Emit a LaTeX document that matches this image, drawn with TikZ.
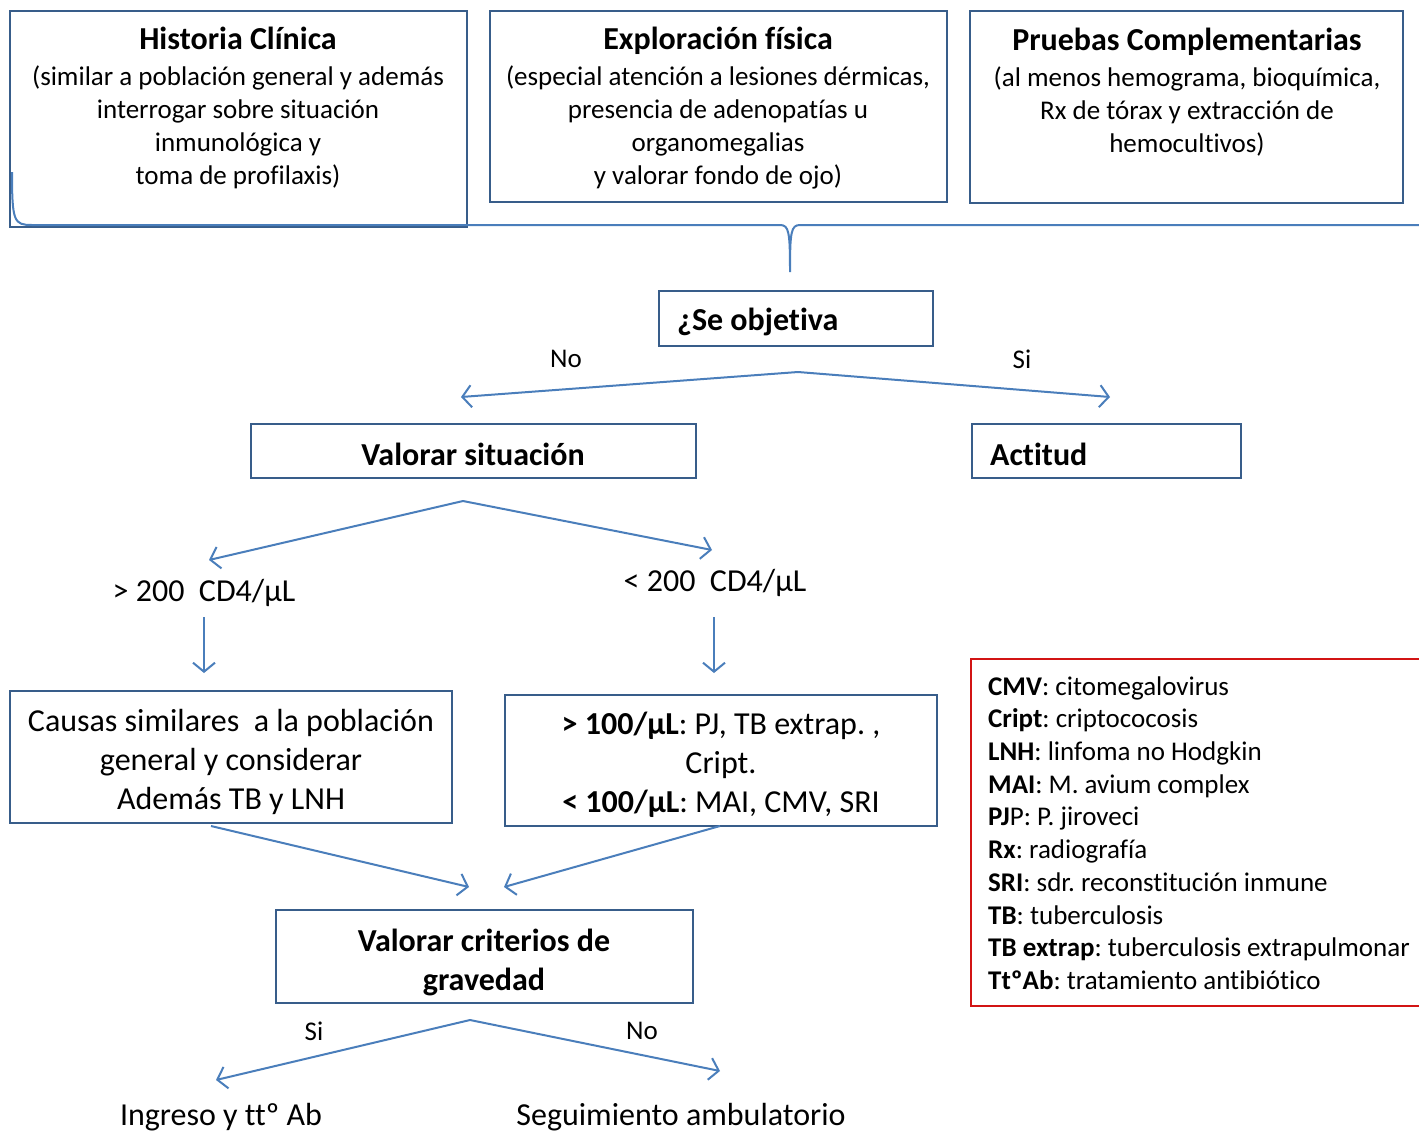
\documentclass[tikz,border=0pt]{standalone}
\usepackage{fontspec}
\setmainfont[Ligatures={NoCommon}]{Carlito}
\usetikzlibrary{arrows.meta,positioning}
\definecolor{boxblue}{RGB}{56,93,138}
\definecolor{arrblue}{RGB}{74,126,187}
\definecolor{legred}{RGB}{210,20,20}
\newcommand{\fsmall}{\fontsize{27}{33}\selectfont}
\newcommand{\flarge}{\fontsize{32}{39}\selectfont}
\newcommand{\ftitle}{\fontsize{32}{33}\selectfont\bfseries}
\frenchspacing

\begin{document}
\begin{tikzpicture}[x=1pt, y=-1pt, >={Straight Barb[length=9pt,width=22pt]},
	box/.style={draw=boxblue, line width=2pt, inner sep=0pt},
	txt/.style={align=center, inner sep=0pt, font=\fsmall},
	big/.style={txt, font=\flarge},
	arr/.style={->, draw=arrblue, line width=2pt}]
	\useasboundingbox (0,0) rectangle (1419,1133);
	\clip (0,0) rectangle (1419,1133);

	% top boxes
	\node[box, minimum width=457pt, minimum height=216pt] (hc) at (238.5,119) {};
	\node[box, minimum width=457pt, minimum height=191pt] (ef) at (718.5,106.5) {};
	\node[box, minimum width=433pt, minimum height=192pt] (pc) at (1186.5,107) {};
	\node[txt] (hct) at (238,108) {{\ftitle Historia Clínica}\\[3pt](similar a población general y además\\interrogar sobre situación\\inmunológica y\\toma de profilaxis)};
	\node[txt] (eft) at (718,108) {{\ftitle Exploración física}\\[3pt](especial atención a lesiones dérmicas,\\presencia de adenopatías u\\organomegalias\\y valorar fondo de ojo)};
	\node[txt] (pct) at (1187,92) {{\ftitle Pruebas Complementarias}\\[3pt](al menos hemograma, bioquímica,\\Rx de tórax y extracción de\\hemocultivos)};

	% brace
	\draw[arrblue, line width=2pt] (12,172) .. controls (12,222) and (14,225) .. (32,225)
		-- (780,225) .. controls (789,225) and (790,232) .. (790,272)
		(790,272) .. controls (790,232) and (791,225) .. (800,225) -- (1425,225);

	\node[box, minimum width=274pt, minimum height=55pt] (obj) at (796,318.5) {};
	\node[big, anchor=west] (objt) at (677,322) {\bfseries ¿Se objetiva};

	\coordinate (objfork) at (798,372);
	\coordinate (notip) at (461,397);
	\coordinate (sitip) at (1110,397);
	\path (objfork) edge[arr] (notip) edge[arr] (sitip);
	\node[txt] (lno) at (566,359) {No};
	\node[txt] (lsi) at (1022,359) {Si};

	\node[box, minimum width=445pt, minimum height=54pt] (val) at (473.5,451) {};
	\node[big] (valt) at (473,454) {\bfseries Valorar situación};
	\node[box, minimum width=269pt, minimum height=54pt] (act) at (1106.5,451) {};
	\node[big, anchor=west] (actt) at (990,454) {\bfseries Actitud};

	\coordinate (valfork) at (463,501);
	\coordinate (gttip) at (209,560);
	\coordinate (lttip) at (712,550);
	\path (valfork) edge[arr] (gttip) edge[arr] (lttip);
	\node[big] (gt) at (204,593) {> 200\ \ CD4/µL};
	\node[big] (lt) at (715,583) {< 200\ \ CD4/µL};

	\coordinate (gtdown) at (204,617);
	\coordinate (gtend) at (204,673);
	\coordinate (ltdown) at (714,617);
	\coordinate (ltend) at (714,673);
	\path (gtdown) edge[arr] (gtend) (ltdown) edge[arr] (ltend);

	\node[box, minimum width=442pt, minimum height=132pt] (cau) at (231,757) {};
	\node[big] (caut) at (231,762) {Causas similares\ \ a la población\\general y considerar\\Además TB y LNH};
	\node[box, minimum width=432pt, minimum height=131pt] (cd) at (721,760.5) {};
	\node[big] (cdt) at (721,765) {{\bfseries > 100/µL}: PJ, TB extrap. ,\\Cript.\\{\bfseries < 100/µL}: MAI, CMV, SRI};

	\coordinate (caufrom) at (211,826);
	\coordinate (cauto) at (469,887);
	\coordinate (cdfrom) at (720,826);
	\coordinate (cdto) at (504,887);
	\path (caufrom) edge[arr] (cauto) (cdfrom) edge[arr] (cdto);

	\node[box, minimum width=417pt, minimum height=93pt] (grav) at (484.5,956.5) {};
	\node[big] (gravt) at (484,962) {\bfseries Valorar criterios de\\\bfseries gravedad};

	\coordinate (gravfork) at (470,1020);
	\coordinate (ingtip) at (216,1080);
	\coordinate (segtip) at (720,1071);
	\path (gravfork) edge[arr] (ingtip) edge[arr] (segtip);
	\node[txt] (gsi) at (314,1031) {Si};
	\node[txt] (gno) at (642,1031) {No};
	\node[big] (ing) at (221,1117) {Ingreso y ttº Ab};
	\node[big] (seg) at (681,1117) {Seguimiento ambulatorio};

	% legend
	\node[draw=legred, line width=2pt, minimum width=469pt, minimum height=347pt] (leg) at (1205.5,832.5) {};
	\node[txt, align=left, anchor=west, font=\fontsize{27}{32.7}\selectfont] (legt) at (988,833) {%
		{\bfseries CMV}: citomegalovirus\\
		{\bfseries Cript}: criptococosis\\
		{\bfseries LNH}: linfoma no Hodgkin\\
		{\bfseries MAI}: M. avium complex\\
		{\bfseries PJ}P: P. jiroveci\\
		{\bfseries Rx}: radiografía\\
		{\bfseries SRI}: sdr. reconstitución inmune\\
		{\bfseries TB}: tuberculosis\\
		{\bfseries TB extrap}: tuberculosis extrapulmonar\\
		{\bfseries TtºAb}: tratamiento antibiótico};
\end{tikzpicture}
\end{document}
